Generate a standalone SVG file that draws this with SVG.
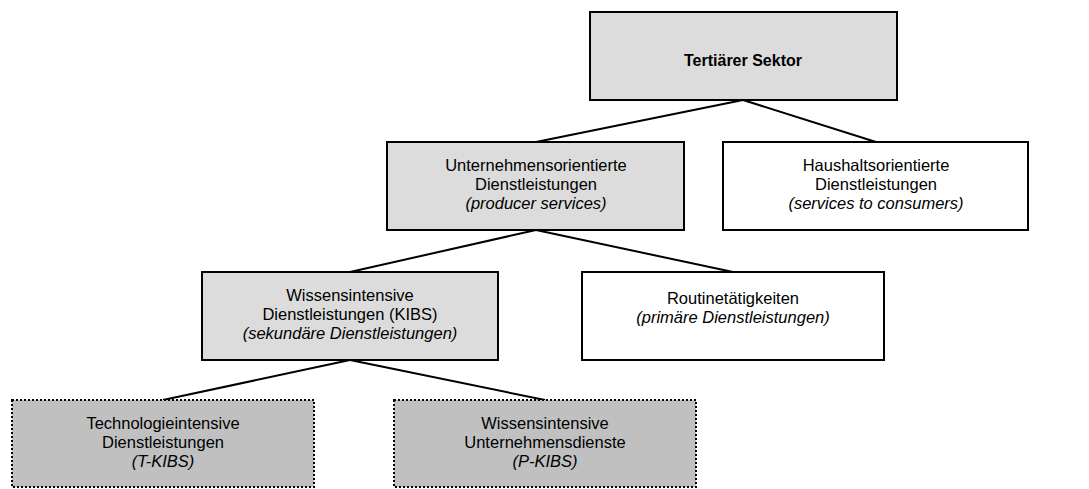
<svg xmlns="http://www.w3.org/2000/svg" width="1089" height="489" viewBox="0 0 1089 489">
<style>
.box{stroke:#000;stroke-width:2}
.l1{fill:#dcdcdc}
.w{fill:#fff}
.d{fill:#c0c0c0;stroke-dasharray:2 2}
text{font-family:"Liberation Sans",Arial,sans-serif;font-size:16.5px;text-anchor:middle;fill:#000}
.i{font-style:italic}
.b{font-weight:bold;font-size:16px}
.c{stroke:#000;stroke-width:2;fill:none}
</style>
<rect width="1089" height="489" fill="#fff"/>
<g id="connectors">
<line class="c" x1="743" y1="100" x2="536" y2="142"/>
<line class="c" x1="743" y1="100" x2="876" y2="142"/>
<line class="c" x1="536" y1="230" x2="350" y2="272"/>
<line class="c" x1="536" y1="230" x2="733" y2="272"/>
<line class="c" x1="350" y1="360" x2="163" y2="400"/>
<line class="c" x1="350" y1="360" x2="545" y2="400"/>
</g>
<g id="tertiaer">
<rect class="box l1" x="590" y="12" width="307" height="88"/>
<text class="b" x="743" y="66">Tertiärer Sektor</text>
</g>
<g id="unternehmen">
<rect class="box l1" x="387" y="142" width="297" height="88"/>
<text x="536" y="171">Unternehmensorientierte</text>
<text x="536" y="190">Dienstleistungen</text>
<text class="i" x="536" y="209">(producer services)</text>
</g>
<g id="haushalt">
<rect class="box w" x="723" y="142" width="305" height="88"/>
<text x="876" y="171">Haushaltsorientierte</text>
<text x="876" y="190">Dienstleistungen</text>
<text class="i" x="876" y="209">(services to consumers)</text>
</g>
<g id="kibs">
<rect class="box l1" x="202" y="272" width="296" height="88"/>
<text x="350" y="301">Wissensintensive</text>
<text x="350" y="320">Dienstleistungen (KIBS)</text>
<text class="i" x="350" y="339">(sekundäre Dienstleistungen)</text>
</g>
<g id="routine">
<rect class="box w" x="582" y="272" width="302" height="88"/>
<text x="733" y="304">Routinetätigkeiten</text>
<text class="i" x="733" y="323">(primäre Dienstleistungen)</text>
</g>
<g id="tkibs">
<rect class="box d" x="12" y="400" width="302" height="87"/>
<text x="163" y="429">Technologieintensive</text>
<text x="163" y="448">Dienstleistungen</text>
<text class="i" x="163" y="467">(T-KIBS)</text>
</g>
<g id="pkibs">
<rect class="box d" x="394" y="400" width="302" height="87"/>
<text x="545" y="429">Wissensintensive</text>
<text x="545" y="448">Unternehmensdienste</text>
<text class="i" x="545" y="467">(P-KIBS)</text>
</g>
</svg>
